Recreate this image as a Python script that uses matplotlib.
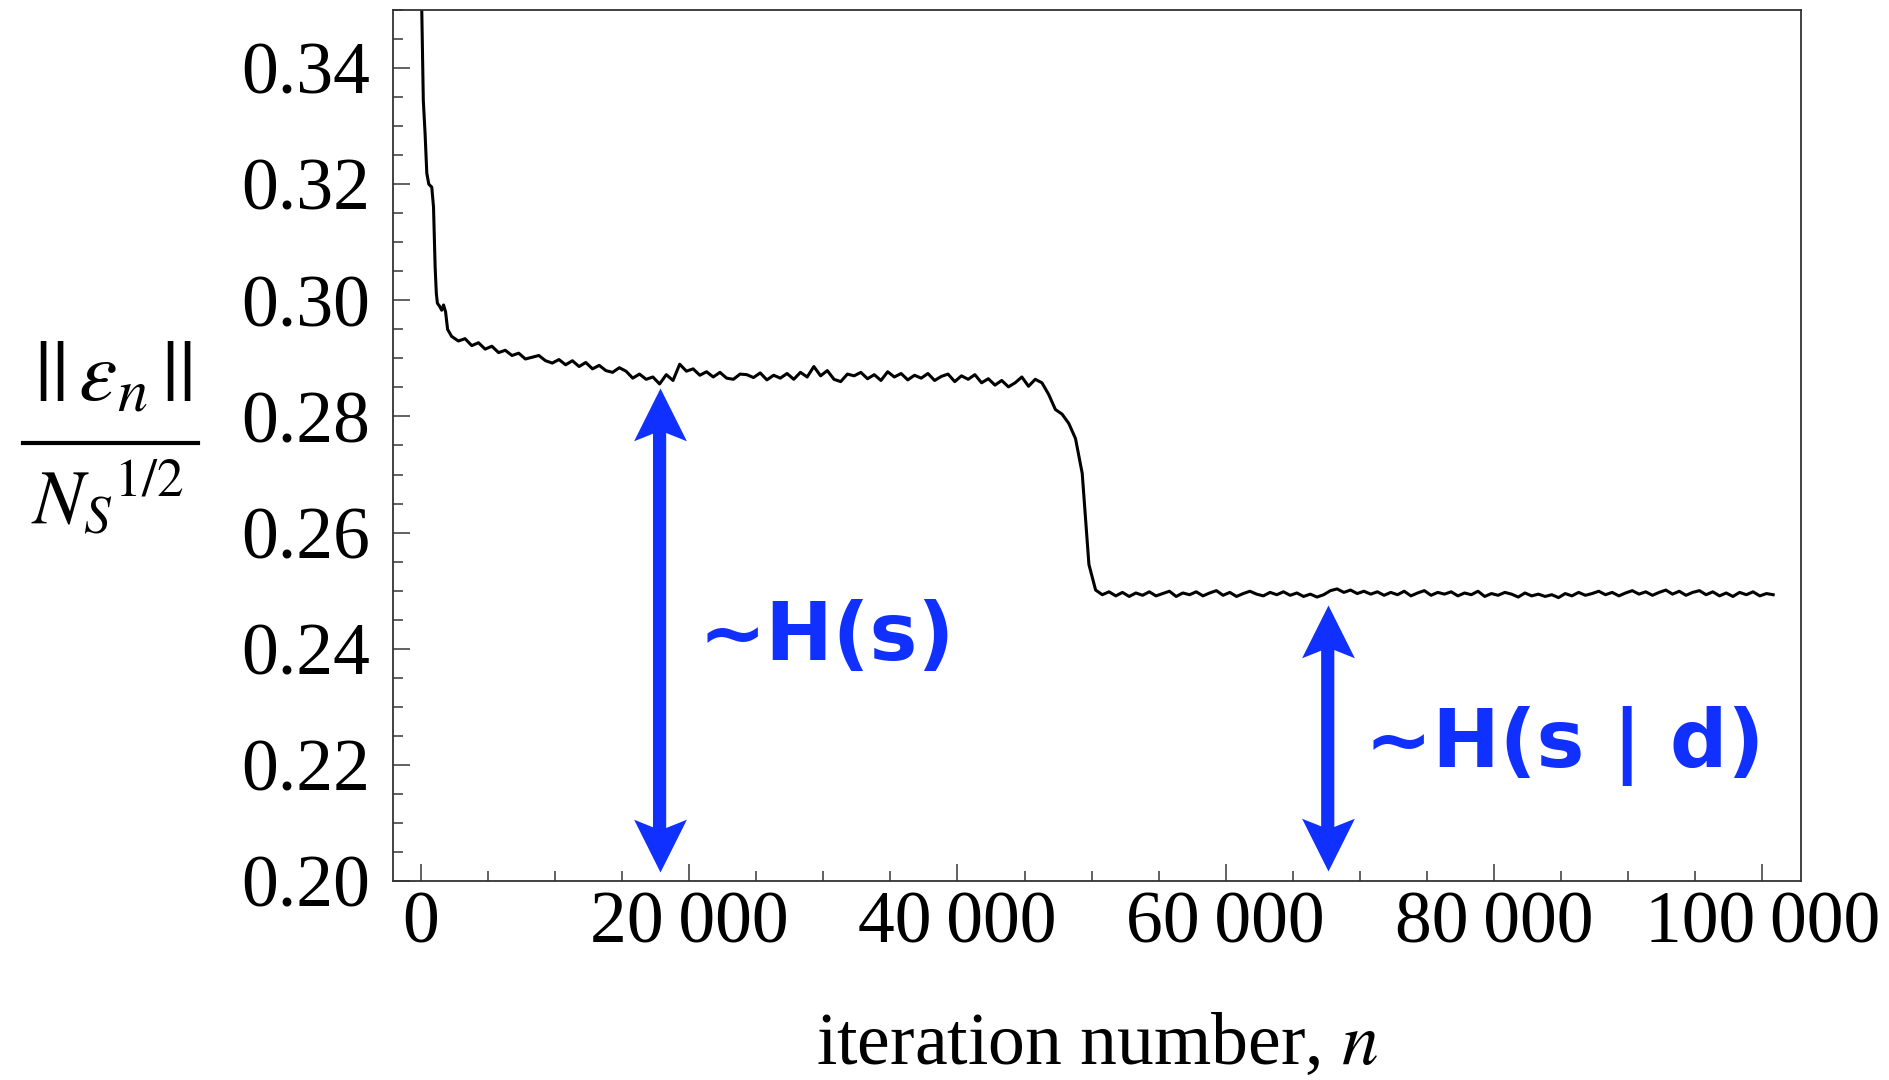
import numpy as np
import matplotlib.pyplot as plt
from matplotlib.lines import Line2D
from matplotlib.ticker import MultipleLocator, FuncFormatter

# steep start of the curve
head_n = [0, 75, 190, 320, 450, 600, 820, 950, 1070, 1160, 1240, 1400, 1560, 1700, 1850, 2000]
head_y = [0.400, 0.350, 0.3344, 0.3288, 0.3219, 0.3200, 0.3195, 0.3161, 0.3058, 0.3012,
          0.2995, 0.2990, 0.2983, 0.2992, 0.2980, 0.2950]

# rest of the curve, sampled every 500 iterations from n = 2300
body_start = 2300
body_step = 500
body_y = [
    0.2938, 0.2930, 0.2934, 0.2922, 0.2927, 0.2916, 0.2921, 0.2910, 0.2914, 0.2905,
    0.2909, 0.2899, 0.2902, 0.2905, 0.2896, 0.2892, 0.2898, 0.2889, 0.2896, 0.2886,
    0.2893, 0.2882, 0.2888, 0.2879, 0.2876, 0.2884, 0.2878, 0.2866, 0.2873, 0.2864,
    0.2868, 0.2856, 0.2872, 0.2862, 0.2890, 0.2878, 0.2882, 0.2871, 0.2877, 0.2868,
    0.2876, 0.2866, 0.2864, 0.2873, 0.2872, 0.2867, 0.2875, 0.2863, 0.2871, 0.2866,
    0.2874, 0.2864, 0.2876, 0.2868, 0.2886, 0.2870, 0.2879, 0.2864, 0.2860, 0.2873,
    0.2870, 0.2876, 0.2865, 0.2872, 0.2862, 0.2877, 0.2868, 0.2874, 0.2863, 0.2871,
    0.2866, 0.2874, 0.2862, 0.2869, 0.2873, 0.2860, 0.2870, 0.2864, 0.2872, 0.2858,
    0.2865, 0.2854, 0.2862, 0.2851, 0.2858, 0.2868, 0.2852, 0.2864, 0.2858, 0.2838,
    0.2812, 0.2804, 0.2788, 0.2762, 0.2702, 0.2545, 0.2501, 0.2493, 0.2498, 0.2491,
    0.2497, 0.2490, 0.2496, 0.2492, 0.2498, 0.2491, 0.2495, 0.2499, 0.2490, 0.2496,
    0.2493, 0.2498, 0.2491, 0.2496, 0.2500, 0.2492, 0.2497, 0.2490, 0.2495, 0.2499,
    0.2494, 0.2491, 0.2497, 0.2493, 0.2498, 0.2492, 0.2496, 0.2490, 0.2494, 0.2489,
    0.2493, 0.2500, 0.2503, 0.2497, 0.2501, 0.2495, 0.2499, 0.2494, 0.2498, 0.2492,
    0.2497, 0.2493, 0.2499, 0.2491, 0.2496, 0.2500, 0.2492, 0.2497, 0.2494, 0.2498,
    0.2491, 0.2496, 0.2493, 0.2499, 0.2490, 0.2495, 0.2492, 0.2497, 0.2494, 0.2489,
    0.2496, 0.2491, 0.2494, 0.2490, 0.2493, 0.2488, 0.2495, 0.2491, 0.2497, 0.2492,
    0.2495, 0.2499, 0.2493, 0.2497, 0.2491, 0.2496, 0.2500, 0.2494, 0.2498, 0.2492,
    0.2497, 0.2501, 0.2494, 0.2499, 0.2492, 0.2497, 0.2500, 0.2493, 0.2498, 0.2491,
    0.2496, 0.2490, 0.2497, 0.2493, 0.2498, 0.2491, 0.2495, 0.2493,
]

# double arrows and their labels
arrow_n = [17800, 67600]
arrow_lo = [0.2016, 0.2017]
arrow_hi = [0.2849, 0.2476]
label_txt = ['~H(s)', '~H(s | d)']
label_n = [20700, 70400]
label_y = [0.2419, 0.2232]

n = np.concatenate([head_n, body_start + body_step*np.arange(len(body_y))])
err = np.concatenate([head_y, body_y])

blue = '#1030FF'
serif = ['Liberation Serif', 'DejaVu Serif']
plt.rcParams['mathtext.fontset'] = 'stix'
plt.rcParams['font.family'] = serif

fig = plt.figure(figsize=(18.89, 10.80), dpi=100)
ax = fig.add_axes([0.2079, 0.1843, 0.7457, 0.8064])

ax.plot(n, err, color='k', lw=2.2)

ax.set_xlim(-2090, 102900)
ax.set_ylim(0.20, 0.35)

ax.xaxis.set_major_locator(MultipleLocator(20000))
ax.xaxis.set_minor_locator(MultipleLocator(5000))
ax.yaxis.set_major_locator(MultipleLocator(0.02))
ax.yaxis.set_minor_locator(MultipleLocator(0.005))
ax.xaxis.set_major_formatter(FuncFormatter(lambda v, p: f'{int(round(v)):,}'.replace(',', '\u2009')))
ax.yaxis.set_major_formatter(FuncFormatter(lambda v, p: f'{v:.2f}'))

ax.tick_params(which='both', direction='in', color='#555555', width=1.3,
               top=False, right=False)
ax.tick_params(which='major', length=12, labelsize=53)
ax.tick_params(which='minor', length=7.5)
ax.tick_params(axis='y', pad=16)
ax.tick_params(axis='x', pad=7)
for s in ax.spines.values():
    s.set_color('#333333')
    s.set_linewidth(1.3)

ax.set_xlabel('iteration number, $n$', fontsize=53, labelpad=39)

# y label drawn as a fraction
fig.text(113/1889, 1 - 380/1080, r'$||\,\varepsilon_n\,||$', fontsize=62,
         ha='center', va='center')
fig.text(107/1889, 1 - 500/1080, r'${N_S}^{1/2}$', fontsize=55,
         ha='center', va='center')
fig.add_artist(Line2D([23/1889, 198/1889], [1 - 443/1080, 1 - 443/1080],
                      transform=fig.transFigure, color='k', lw=3))

# arrowheads as markers with a notched back, tip at the data point
head_up = [(0, 0), (0.5, -1), (0, -0.8), (-0.5, -1), (0, 0)]
head_dn = [(0, 0), (0.5, 1), (0, 0.8), (-0.5, 1), (0, 0)]
for x, lo, hi, t, tx, ty in zip(arrow_n, arrow_lo, arrow_hi, label_txt, label_n, label_y):
    ax.annotate('', xy=(x, lo), xytext=(x, hi),
                arrowprops=dict(arrowstyle='-', color=blue, lw=9.5,
                                shrinkA=20, shrinkB=20))
    ax.plot([x], [hi], marker=head_up, markersize=76, color=blue, mew=0)
    ax.plot([x], [lo], marker=head_dn, markersize=76, color=blue, mew=0)
    ax.text(tx, ty, t, color=blue, fontsize=58, fontweight='bold',
            family=['DejaVu Sans'], ha='left', va='center')

fig.savefig('out.png', dpi=100)
